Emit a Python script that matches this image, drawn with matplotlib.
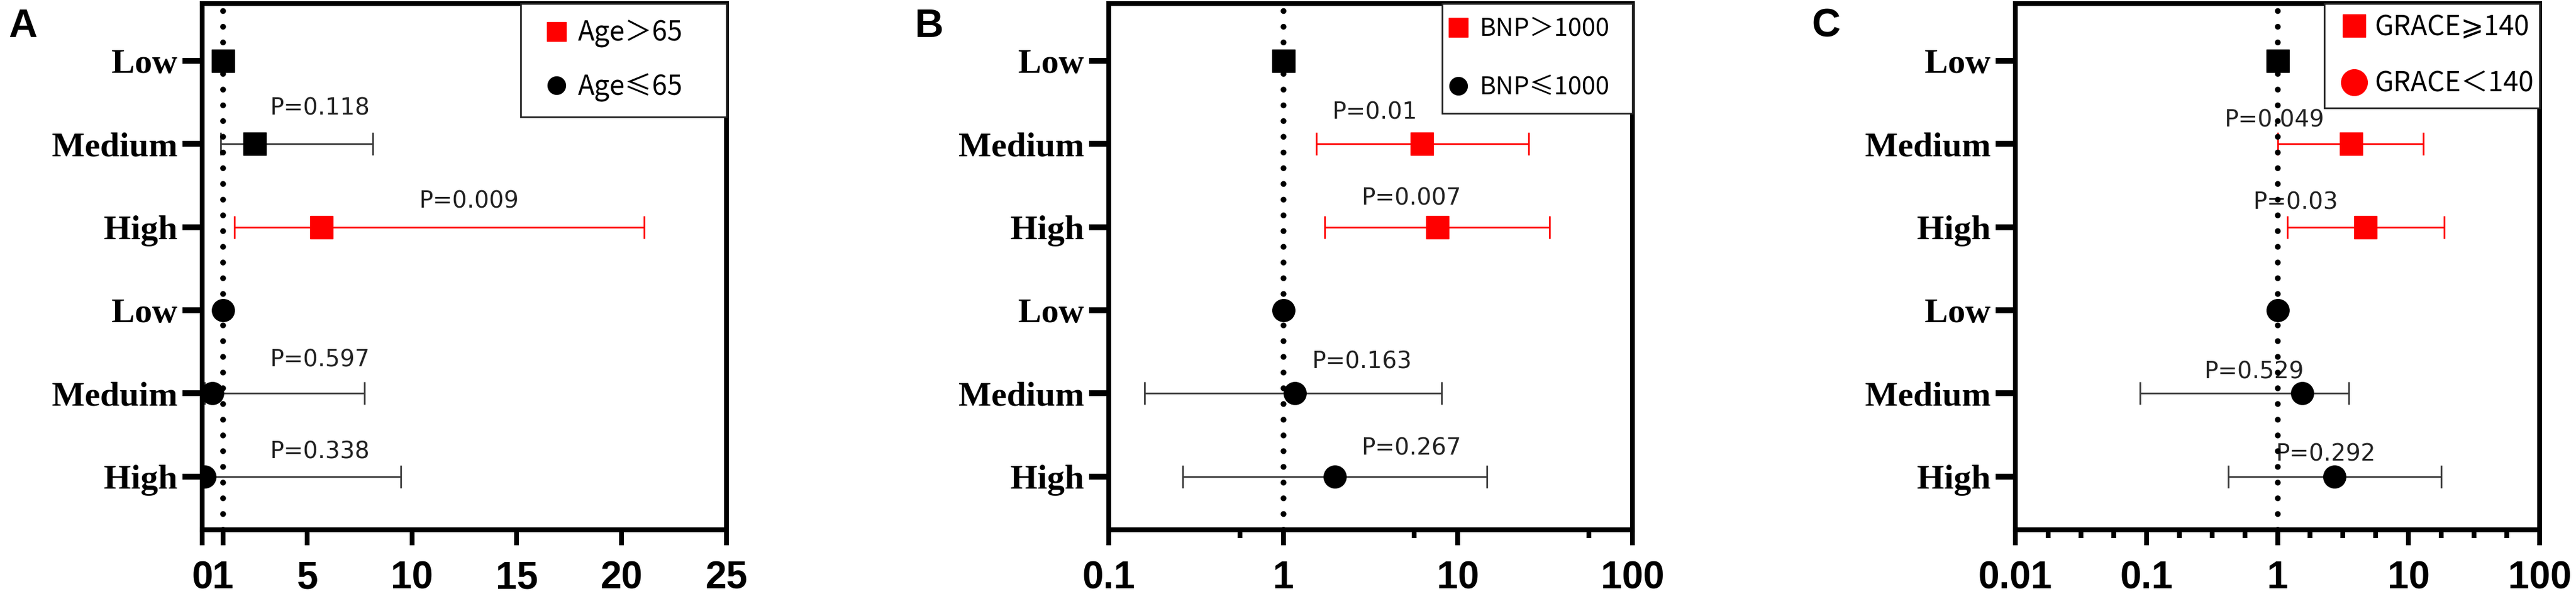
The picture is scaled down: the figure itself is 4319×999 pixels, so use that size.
import numpy as np
import matplotlib
matplotlib.use("Agg")
import matplotlib.pyplot as plt
from matplotlib import ticker
from matplotlib.lines import Line2D

# ---- data ----
rows_a = ["Low", "Medium", "High", "Low", "Meduim", "High"]
rows_bc = ["Low", "Medium", "High", "Low", "Medium", "High"]
shapes = ["s", "s", "s", "o", "o", "o"]

or_a = [1, 2.5, 5.7, 1, 0.49, 0.1]
lo_a = [1, 0.88, 1.53, 1, 0.1, 0.05]
hi_a = [1, 8.14, 21.07, 1, 7.75, 9.48]
col_a = ["k", "k", "r", "k", "k", "k"]
p_a = ["", "P=0.118", "P=0.009", "", "P=0.597", "P=0.338"]

or_b = [1, 6.24, 7.66, 1, 1.16, 1.97]
lo_b = [1, 1.55, 1.72, 1, 0.16, 0.266]
hi_b = [1, 25.4, 33.5, 1, 8.09, 14.7]
col_b = ["k", "r", "r", "k", "k", "k"]
p_b = ["", "P=0.01", "P=0.007", "", "P=0.163", "P=0.267"]

or_c = [1, 3.64, 4.67, 1, 1.55, 2.72]
lo_c = [1, 1.0, 1.19, 1, 0.089, 0.42]
hi_c = [1, 13.0, 18.8, 1, 3.51, 17.8]
col_c = ["k", "r", "r", "k", "k", "k"]
p_c = ["", "P=0.049", "P=0.03", "", "P=0.529", "P=0.292"]

# where the P labels sit (x in data units, y offset in rows)
px_a = [0, 5.6, 12.7, 0, 5.6, 5.6]
px_b = [0, 3.33, 5.4, 0, 2.8, 5.4]
px_c = [0, 0.94, 1.37, 0, 0.66, 2.33]
pdy_a = [0, -0.43, -0.31, 0, -0.40, -0.30]
pdy_b = [0, -0.38, -0.35, 0, -0.38, -0.34]
pdy_c = [0, -0.29, -0.30, 0, -0.26, -0.27]

leg_a = ["Age＞65", "Age≤65"]
leg_b = ["BNP＞1000", "BNP≤1000"]
leg_c = ["GRACE⩾140", "GRACE＜140"]

RED = "#ff0000"
W, H = 4319, 999
fig = plt.figure(figsize=(W / 100, H / 100), dpi=100)

serif_bold = dict(family=["Liberation Serif", "DejaVu Serif"], weight="bold", size=42)
sans_bold = dict(family=["Liberation Sans", "DejaVu Sans"], weight="bold", size=46)
cjk = ["Noto Sans CJK SC", "DejaVu Sans"]


def panel(left_px, right_px, rows, ors, los, his, cols, ps, pxs, pdys, log):
    ax = fig.add_axes([left_px / W, 1 - 888 / H, (right_px - left_px) / W, 882 / H])
    y = np.arange(len(rows))
    ax.axvline(1, color="black", lw=7, linestyle=(0, (0.01, 2.7)),
               dash_capstyle="round", zorder=2.5)
    for i in range(len(rows)):
        c = RED if cols[i] == "r" else "black"
        ec = RED if cols[i] == "r" else "#3a3a3a"
        if ps[i]:
            ax.errorbar(ors[i], y[i], xerr=[[ors[i] - los[i]], [his[i] - ors[i]]],
                        fmt="none", ecolor=ec, elinewidth=2, capsize=13.5,
                        capthick=2, zorder=2)
            ax.text(pxs[i], y[i] + pdys[i], ps[i], ha="center", va="center",
                    fontsize=28, color="#222222", zorder=1)
        ax.plot(ors[i], y[i], marker=shapes[i], color=c, markersize=27,
                linestyle="none", zorder=3)
    ax.set_yticks(y)
    ax.set_yticklabels(rows, fontdict=serif_bold)
    ax.set_ylim(5.64, -0.69)
    for s in ax.spines.values():
        s.set_linewidth(5.8)
    ax.tick_params(axis="y", length=24, width=7, pad=6)
    ax.tick_params(axis="x", which="major", length=19, width=5.8, pad=18)
    ax.tick_params(axis="x", which="minor", length=10, width=5.8)
    if log:
        ax.set_xscale("log")
    return ax


# panel A (linear)
ax_a = panel(339, 1218, rows_a, or_a, lo_a, hi_a, col_a, p_a, px_a, pdy_a, False)
ax_a.set_xlim(0, 25)
ax_a.set_xticks([0, 1, 5, 10, 15, 20, 25])
ax_a.set_xticklabels(["0", "1", "5", "10", "15", "20", "25"], fontdict=sans_bold)

# panel B (log 0.1-100)
ax_b = panel(1859, 2737, rows_bc, or_b, lo_b, hi_b, col_b, p_b, px_b, pdy_b, True)
ax_b.set_xlim(0.1, 100)
ax_b.xaxis.set_major_locator(ticker.FixedLocator([0.1, 1, 10, 100]))
ax_b.xaxis.set_minor_locator(ticker.FixedLocator(10 ** (np.arange(-1, 2) + 0.75)))
ax_b.xaxis.set_minor_formatter(ticker.NullFormatter())
ax_b.set_xticklabels(["0.1", "1", "10", "100"], fontdict=sans_bold)

# panel C (log 0.01-100)
ax_c = panel(3379, 4258, rows_bc, or_c, lo_c, hi_c, col_c, p_c, px_c, pdy_c, True)
ax_c.set_xlim(0.01, 100)
ax_c.xaxis.set_major_locator(ticker.FixedLocator([0.01, 0.1, 1, 10, 100]))
minors = (np.arange(-2, 2)[:, None] + np.array([0.25, 0.5, 0.75])).ravel()
ax_c.xaxis.set_minor_locator(ticker.FixedLocator(10 ** minors))
ax_c.xaxis.set_minor_formatter(ticker.NullFormatter())
ax_c.set_xticklabels(["0.01", "0.1", "1", "10", "100"], fontdict=sans_bold)


def legend(ax, labels, c2, ms, x0, fs, bpad, hl, tpad, lsp):
    handles = [Line2D([], [], marker="s", color=RED, linestyle="none", markersize=ms[0]),
               Line2D([], [], marker="o", color=c2, linestyle="none", markersize=ms[1])]
    lg = ax.legend(handles, labels, loc="upper left", bbox_to_anchor=(x0, 0, 1 - x0, 1),
                   mode="expand", borderaxespad=0, fancybox=False, framealpha=1,
                   edgecolor="#222222", prop=dict(family=cjk, size=fs),
                   borderpad=bpad, handlelength=hl, handletextpad=tpad,
                   labelspacing=lsp)
    lg.get_frame().set_linewidth(2)
    lg.set_zorder(5)


legend(ax_a, leg_a, "black", (23, 21.5), 0.6075, 33, 0.55, 1.5, 0.05, 0.9)
legend(ax_b, leg_b, "black", (23, 21.5), 0.637, 30, 0.55, 0.16, 0.8, 1.35)
legend(ax_c, leg_c, RED, (28, 31.5), 0.589, 33, 0.35, 1.5, 0.0, 1.0)

for letter, xp in zip("ABC", [14, 1533, 3037]):
    fig.text(xp / W, 1 - 14 / H, letter, ha="left", va="top",
             family=["Liberation Sans", "DejaVu Sans"], weight="bold", size=48)

fig.savefig("out.png", dpi=100)
